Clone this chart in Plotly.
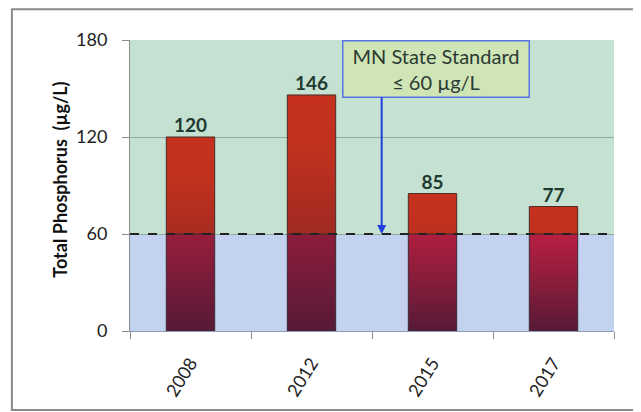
import plotly.graph_objects as go

# data
years = ["2008", "2012", "2015", "2017"]
phosphorus = [120, 146, 85, 77]
state_standard = 60
y_ticks = [0, 60, 120, 180]

FONT = "Lato, Open Sans, sans-serif"
positions = list(range(len(years)))
half_w = 0.2

fig = go.Figure()

# each bar is drawn as two filled polygons so it can carry a vertical gradient:
# the part below the standard and the part above it
for pos, val in zip(positions, phosphorus):
    low = min(val, state_standard)
    xs = [pos - half_w, pos + half_w, pos + half_w, pos - half_w, pos - half_w]
    fig.add_trace(go.Scatter(
        x=xs, y=[0, 0, low, low, 0], mode="lines", fill="toself",
        line=dict(color="#3b2a35", width=1),
        fillgradient=dict(
            type="vertical", start=0, stop=val,
            colorscale=[[0, "#561a37"], [0.45, "#911d3b"], [0.78, "#b81f42"], [1, "#c22145"]],
        ),
        hoverinfo="skip", showlegend=False,
    ))
    if val > state_standard:
        fig.add_trace(go.Scatter(
            x=xs, y=[low, low, val, val, low], mode="lines", fill="toself",
            line=dict(color="#4a2a25", width=1),
            fillgradient=dict(
                type="vertical", start=0, stop=val,
                colorscale=[[0, "#6e1f20"], [0.4, "#9e2a22"], [0.75, "#bf301f"], [1, "#c6311f"]],
            ),
            hoverinfo="skip", showlegend=False,
        ))

# value labels on top of bars
fig.add_trace(go.Scatter(
    x=positions, y=phosphorus, mode="text",
    text=[str(v) for v in phosphorus], textposition="top center",
    textfont=dict(family=FONT, size=19, color="#1f3a30", weight="bold"),
    hoverinfo="skip", showlegend=False,
))

# invisible trace on the second x axis so the year labels show
fig.add_trace(go.Scatter(x=positions, y=[None] * len(years), xaxis="x2",
                         showlegend=False, hoverinfo="skip"))

# background bands: below / above the standard
fig.add_shape(type="rect", xref="paper", yref="y", x0=0, x1=1, y0=0, y1=state_standard,
              fillcolor="#c3d2ee", line=dict(width=0), layer="below")
fig.add_shape(type="rect", xref="paper", yref="y", x0=0, x1=1, y0=state_standard, y1=y_ticks[-1],
              fillcolor="#c5e1d2", line=dict(width=0), layer="below")
# dashed standard line
fig.add_shape(type="line", xref="paper", yref="y", x0=0, x1=1, y0=state_standard, y1=state_standard,
              line=dict(color="#222222", width=2, dash="dash"))
# outer frame
fig.add_shape(type="rect", xref="paper", yref="paper", x0=-0.244, x1=1.046, y0=-0.2715, y1=1.106,
              line=dict(color="#8a8a8a", width=2))

# y axis title placed by hand
fig.add_annotation(
    x=-0.1715, y=0.52, xref="paper", yref="paper", textangle=-90,
    text="Total Phosphorus  (µg/L)", showarrow=False,
    font=dict(family=FONT, size=18, color="#111111", weight="bold"),
)

# label box and arrow
fig.add_annotation(
    x=2.03, y=180, xref="x", yref="y", yanchor="top",
    text="MN State Standard<br>≤ 60 µg/L", showarrow=False,
    font=dict(family=FONT, size=20, color="#2b3a33"),
    bgcolor="#cfe5b6", bordercolor="#5a73e0", borderwidth=1.5,
    width=183, height=53, borderpad=1,
)
fig.add_annotation(
    x=1.58, y=state_standard, ax=1.58, ay=145.5, xref="x", yref="y", axref="x", ayref="y",
    text="", showarrow=True, arrowhead=2, arrowsize=0.9, arrowwidth=2, arrowcolor="#1f3fe0",
)

# the page puts the figure 8px in from the top-left corner
fig.update_layout(
    width=633, height=404,
    margin=dict(l=122, r=27, t=32, b=81),
    paper_bgcolor="white", plot_bgcolor="rgba(0,0,0,0)",
    font=dict(family=FONT, color="#222222"),
    xaxis=dict(
        range=[-0.5, len(years) - 0.5],
        tickvals=[p - 0.5 for p in positions] + [len(years) - 0.5],
        ticktext=[""] * (len(years) + 1),
        ticks="outside", ticklen=7, tickcolor="#8a8a8a",
        showline=True, linecolor="#8a9ab8", showgrid=False, zeroline=False,
        automargin=False,
    ),
    xaxis2=dict(
        overlaying="x", side="bottom", range=[-0.5, len(years) - 0.5],
        tickvals=positions, ticktext=years, tickangle=-58,
        tickfont=dict(family=FONT, size=18, color="#222222"),
        ticks="", showgrid=False, zeroline=False, showline=False,
        ticklabelstandoff=17, automargin=False,
    ),
    yaxis=dict(
        range=[0, 180], tickvals=y_ticks,
        tickfont=dict(family=FONT, size=18, color="#222222"),
        ticks="outside", ticklen=7, tickcolor="#8a8a8a", ticklabelstandoff=11,
        showline=True, linecolor="#8a8a8a",
        showgrid=True, gridcolor="#93ab9e", zeroline=False, automargin=False,
    ),
)

fig.write_html("out.html")
